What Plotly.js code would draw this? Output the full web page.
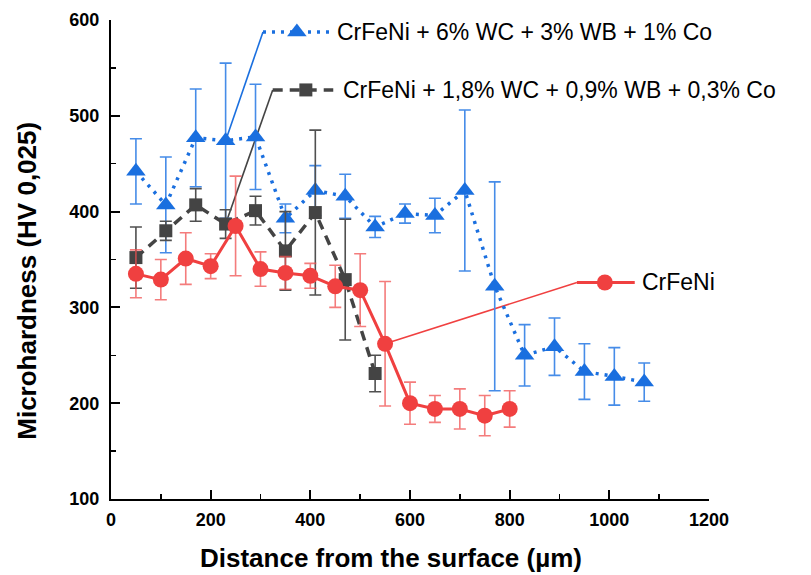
<!DOCTYPE html>
<html>
<head>
<meta charset="utf-8">
<script src="https://cdn.plot.ly/plotly-3.0.1.min.js"></script>
<style>html,body{margin:0;padding:0;background:#fff;}#chart{width:811px;height:575px;}</style>
</head>
<body>
<div id="chart"></div>
<script>
// ---- Data ----
const blueName = "CrFeNi + 6% WC + 3% WB + 1% Co";
const blueX = [50,110,170,230,290,350,410,470,530,590,650,710,770,830,890,950,1010,1070];
const blueY = [442,407,477,474,478,393,422,416,384,398,396,422,322,250,259,233,228,222];
const blueErr = [34,50,51,81,55,15,26,23,11,10,18,84,109,32,30,29,30,20];

const greyName = "CrFeNi + 1,8% WC + 0,9% WB + 0,3% Co";
const greyX = [50,110,170,230,290,350,410,470,530];
const greyY = [352,380,407,387,401,359,399,329,231];
const greyErr = [32,10,17,15,15,41,86,63,19];

const redName = "CrFeNi";
const redX = [50,100,150,200,250,300,350,400,450,500,550,600,650,700,750,800];
const redY = [335,329,351,343,385,340,336,333,322,318,262,200,194,194,187,194];
const redErr = [25,21,27,13,52,18,17,13,22,38,65,22,14,21,21,19];

const xTitle = "Distance from the surface (µm)";
const yTitle = "Microhardness (HV 0,025)";

// ---- Styles ----
const FONT = "Liberation Sans, Arial, sans-serif";
const BLUE = "rgb(26,111,223)", BLUE_E = "rgb(70,140,232)";
const GREY = "rgb(68,68,68)", GREY_E = "rgb(80,80,80)";
const RED = "rgb(240,64,64)", RED_E = "rgba(240,80,80,0.75)";

const series = [
  {name: blueName, x: blueX, y: blueY, e: blueErr, color: BLUE, ecolor: BLUE_E,
   dash: "3px,6px", width: 3.5, symbol: "triangle-up", size: 17,
   // legend key placement (data coordinates); leader starts at point index
   leadIdx: 3, key: {x0: 305, x1: 440, xm: 373, y: 587.5, tx: 449}},
  {name: greyName, x: greyX, y: greyY, e: greyErr, color: GREY, ecolor: GREY_E,
   dash: "10px,7px", width: 3.5, symbol: "square", size: 13,
   leadIdx: 3, key: {x0: 324.5, x1: 446, xm: 391, y: 527, tx: 461}},
  {name: redName, x: redX, y: redY, e: redErr, color: RED, ecolor: RED_E,
   dash: "solid", width: 3, symbol: "circle", size: 16,
   leadIdx: 10, key: {x0: 935, x1: 1051, xm: 991, y: 326, tx: 1061}}
];

const traces = [];
const shapes = [];
const annotations = [];

series.forEach(s => {
  traces.push({
    type: "scatter", mode: "lines+markers", name: s.name,
    x: s.x, y: s.y, showlegend: false, cliponaxis: false,
    line: {color: s.color, width: s.width, dash: s.dash},
    marker: {symbol: s.symbol, size: s.size, color: s.color, opacity: 1, line: {width: 0}},
    error_y: {type: "data", array: s.e, visible: true, color: s.ecolor, thickness: 1.6, width: 6}
  });
});
// legend keys (drawn after the data so they sit on top)
series.forEach(s => {
  const k = s.key;
  traces.push({
    type: "scatter", mode: "lines", name: s.name + " key line",
    x: [k.x0, k.x1], y: [k.y, k.y], showlegend: false, hoverinfo: "skip",
    cliponaxis: false,
    line: {color: s.color, width: s.width, dash: s.dash}
  });
  traces.push({
    type: "scatter", mode: "markers", name: s.name + " key marker",
    x: [k.xm], y: [k.y], showlegend: false, hoverinfo: "skip",
    cliponaxis: false,
    marker: {symbol: s.symbol, size: s.size, color: s.color, opacity: 1, line: {width: 0}}
  });
  shapes.push({
    type: "line", xref: "x", yref: "y", layer: "below",
    x0: s.x[s.leadIdx], y0: s.y[s.leadIdx], x1: k.x0, y1: k.y,
    line: {color: s.color, width: 1.6}
  });
  annotations.push({
    xref: "x", yref: "y", x: k.tx, y: k.y, text: s.name, showarrow: false,
    xanchor: "left", yanchor: "middle",
    font: {family: FONT, size: 23, color: "#000"}
  });
});

annotations.push({
  xref: "paper", yref: "paper", x: 0.468, y: -0.123, text: xTitle, showarrow: false,
  xanchor: "center", yanchor: "middle",
  font: {family: FONT, size: 26, color: "#000", weight: "bold"}
});
annotations.push({
  xref: "paper", yref: "paper", x: -0.141, y: 0.455, text: yTitle, showarrow: false,
  textangle: -90, xanchor: "center", yanchor: "middle",
  font: {family: FONT, size: 26, color: "#000", weight: "bold"}
});

const axisCommon = {
  ticks: "inside", ticklen: 9, tickwidth: 2, tickcolor: "#000",
  showline: true, linewidth: 2, linecolor: "#000",
  showgrid: false, zeroline: false,
  tickfont: {family: FONT, size: 18, color: "#000", weight: "bold"}
};

const layout = {
  width: 811, height: 575,
  margin: {l: 111, r: 102, t: 20, b: 76},
  paper_bgcolor: "#fff", plot_bgcolor: "#fff",
  showlegend: false,
  xaxis: Object.assign({}, axisCommon, {
    range: [0, 1200], tick0: 0, dtick: 200,
    minor: {dtick: 100, ticks: "inside", ticklen: 5, tickwidth: 1.5, tickcolor: "#000", showgrid: false},
    ticklabelstandoff: 3
  }),
  yaxis: Object.assign({}, axisCommon, {
    range: [100, 600], tick0: 100, dtick: 100,
    minor: {dtick: 50, ticks: "inside", ticklen: 5, tickwidth: 1.5, tickcolor: "#000", showgrid: false},
    ticklabelstandoff: 6
  }),
  shapes: shapes,
  annotations: annotations
};

Plotly.newPlot("chart", traces, layout, {staticPlot: true, displayModeBar: false});
</script>
</body>
</html>
